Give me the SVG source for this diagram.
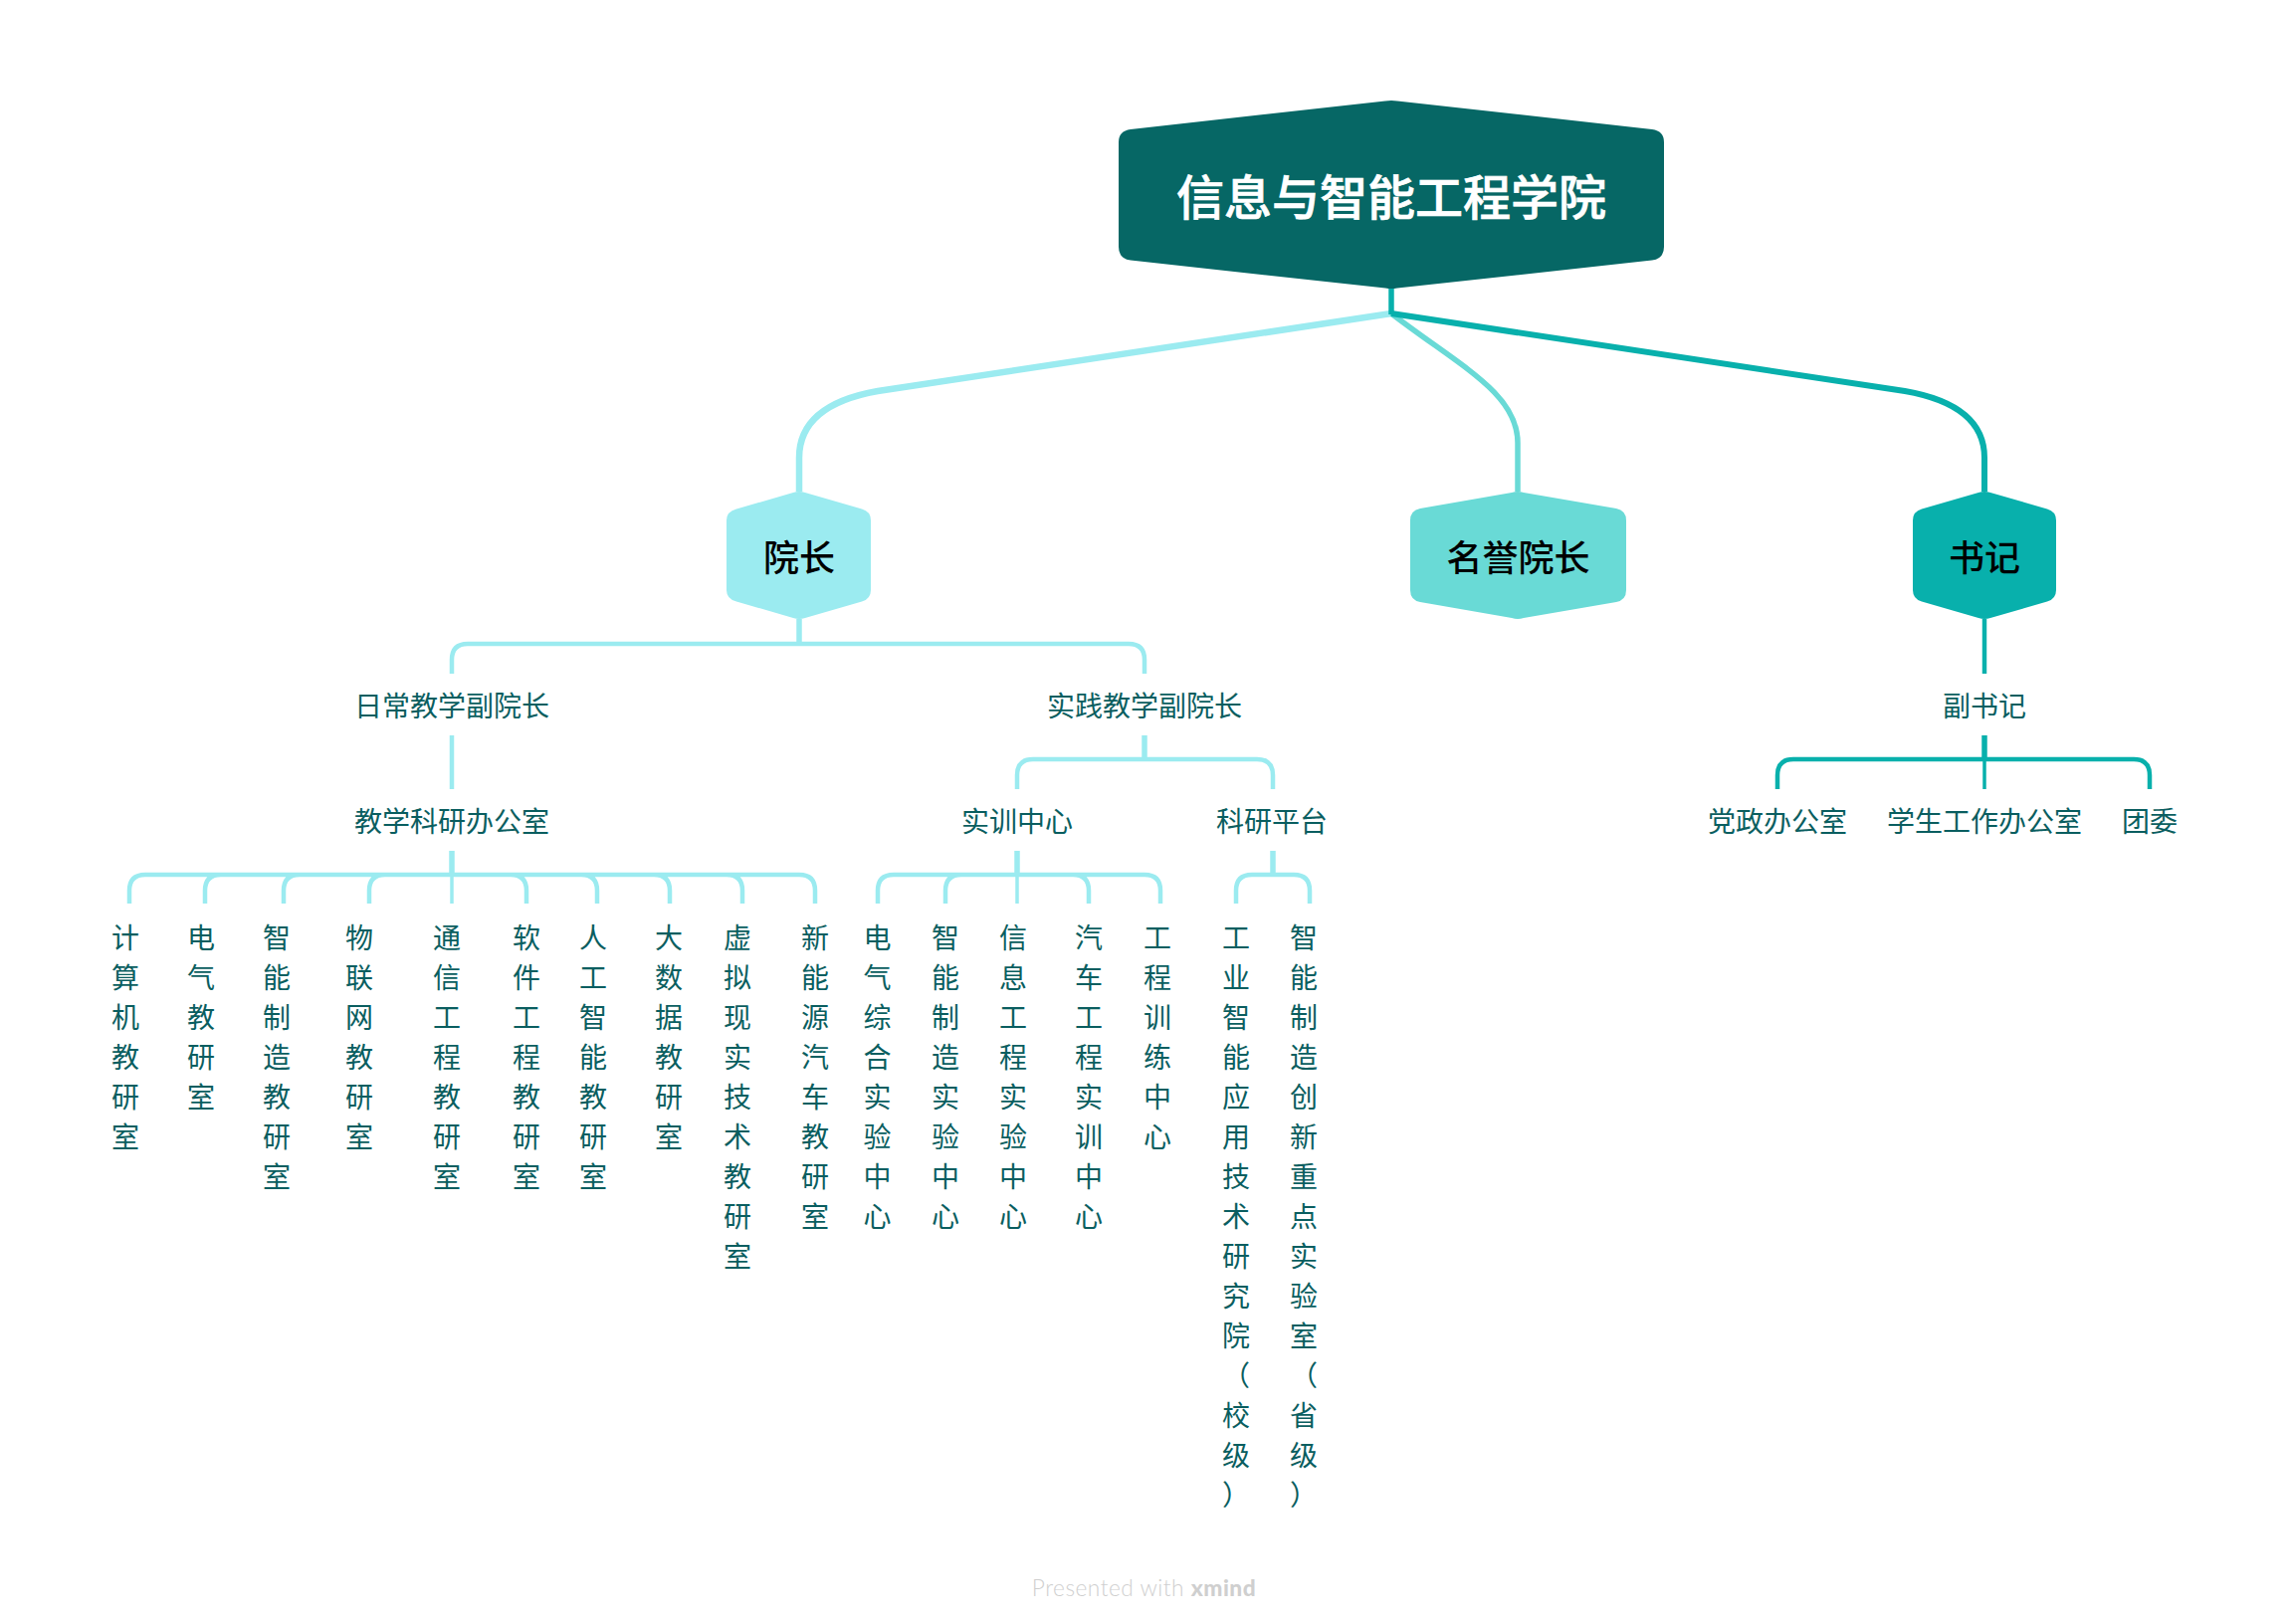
<svg xmlns="http://www.w3.org/2000/svg" width="2300" height="1632" viewBox="0 0 2300 1632">
<style>
text{font-family:"Noto Sans CJK SC","Noto Sans",sans-serif;text-anchor:middle}
.c{fill:none;stroke-linecap:butt}
.a{stroke:#9BEBF0;stroke-width:4.500}
.d{stroke:#08B0AC;stroke-width:4.500}
.s{stroke-width:5.500}
.n{stroke-width:3.500}
.t{font-size:28px;fill:#0A5E60}
.m{font-size:36px;font-weight:500;fill:#000}
</style>
<rect width="2300" height="1632" fill="#fff"/>
<g id="connectors">
<path class="c" d="M1398 315L882 393Q803 407 803 460V494" stroke="#9BEBF0" stroke-width="6.500"/>
<path class="c" d="M1398 315C1467 368 1525 395 1525 445V494" stroke="#69DAD6" stroke-width="5.500"/>
<path class="c" d="M1398 315L1914 393Q1994 407 1994 460V494" stroke="#08B0AC" stroke-width="6"/>
<path class="c" d="M1398 290V316" stroke="#08B0AC" stroke-width="5.500"/>
<g>
<path class="c a s" d="M803 622V647"/>
<path class="c a" d="M454 677V663Q454 647 470 647H1134Q1150 647 1150 663V677"/>
<path class="c a" d="M454 739V793"/>
<path class="c a s" d="M454 855V879"/>
<path class="c a n" d="M454 879V908"/>
<path class="c a" d="M819 908V895Q819 879 803 879H146Q130 879 130 895V908M206 908V895Q206 879 222 879M285 908V895Q285 879 301 879M371 908V895Q371 879 387 879M529 908V895Q529 879 513 879M600 908V895Q600 879 584 879M673 908V895Q673 879 657 879M746 908V895Q746 879 730 879"/>
<path class="c a s" d="M1150 739V763"/>
<path class="c a" d="M1022 793V779Q1022 763 1038 763H1263Q1279 763 1279 779V793"/>
<path class="c a s" d="M1022 855V879"/>
<path class="c a n" d="M1022 879V908"/>
<path class="c a" d="M882 908V895Q882 879 898 879H1150Q1166 879 1166 895V908M950 908V895Q950 879 966 879M1094 908V895Q1094 879 1078 879"/>
<path class="c a s" d="M1279 855V879"/>
<path class="c a" d="M1242 908V895Q1242 879 1258 879H1300Q1316 879 1316 895V908"/>
<path class="c d" d="M1994 622V677"/>
<path class="c d s" d="M1994 739V763"/>
<path class="c d n" d="M1994 763V793"/>
<path class="c d" d="M1786 793V779Q1786 763 1802 763H2144Q2160 763 2160 779V793"/>
</g>
</g>
<g id="root">
<path fill="#066765" d="M1392 101.500Q1398 100.500 1404 101.500L1660 130Q1672 131.500 1672 143V248Q1672 260 1660 261.500L1404 289.500Q1398 290.500 1392 289.500L1136 261.500Q1124 260 1124 248V143Q1124 131.500 1136 130Z"/>
<text x="1398" y="216" font-size="48" font-weight="500" fill="#fff" stroke="#fff" stroke-width="0.700">信息与智能工程学院</text>
</g>
<g id="n-dean">
<path fill="#9BEBF0" d="M797 495Q803 493 809 495L866 511.500Q875 514 875 523V593Q875 602 866 604.500L809 621Q803 623 797 621L740 604.500Q730 602 730 593V523Q730 514 740 511.500Z"/>
<text class="m" x="803" y="574">院长</text>
</g>
<g id="n-honor">
<path fill="#69DAD6" d="M1519 495Q1525 493 1531 495L1624 511Q1634 513 1634 523V593Q1634 603 1624 605L1531 621Q1525 623 1519 621L1427 605Q1417 603 1417 593V523Q1417 513 1427 511Z"/>
<text class="m" x="1525.500" y="574">名誉院长</text>
</g>
<g id="n-sec">
<path fill="#08B0AC" d="M1988 495Q1994 493 2000 495L2057 511.500Q2066 514 2066 523V593Q2066 602 2057 604.500L2000 621Q1994 623 1988 621L1931 604.500Q1922 602 1922 593V523Q1922 514 1931 511.500Z"/>
<text class="m" x="1994" y="574">书记</text>
</g>
<g id="labels">
<text class="t" x="454" y="720">日常教学副院长</text>
<text class="t" x="1150" y="720">实践教学副院长</text>
<text class="t" x="1994" y="720">副书记</text>
<text class="t" x="454" y="836">教学科研办公室</text>
<text class="t" x="1022" y="836">实训中心</text>
<text class="t" x="1278" y="836">科研平台</text>
<text class="t" x="1786" y="836">党政办公室</text>
<text class="t" x="1994" y="836">学生工作办公室</text>
<text class="t" x="2160" y="836">团委</text>
</g>
<g id="leaves">
<text class="t" id="l1"><tspan x="126" y="952.500">计</tspan><tspan x="126" dy="40">算</tspan><tspan x="126" dy="40">机</tspan><tspan x="126" dy="40">教</tspan><tspan x="126" dy="40">研</tspan><tspan x="126" dy="40">室</tspan></text>
<text class="t" id="l2"><tspan x="202" y="952.500">电</tspan><tspan x="202" dy="40">气</tspan><tspan x="202" dy="40">教</tspan><tspan x="202" dy="40">研</tspan><tspan x="202" dy="40">室</tspan></text>
<text class="t" id="l3"><tspan x="278" y="952.500">智</tspan><tspan x="278" dy="40">能</tspan><tspan x="278" dy="40">制</tspan><tspan x="278" dy="40">造</tspan><tspan x="278" dy="40">教</tspan><tspan x="278" dy="40">研</tspan><tspan x="278" dy="40">室</tspan></text>
<text class="t" id="l4"><tspan x="361" y="952.500">物</tspan><tspan x="361" dy="40">联</tspan><tspan x="361" dy="40">网</tspan><tspan x="361" dy="40">教</tspan><tspan x="361" dy="40">研</tspan><tspan x="361" dy="40">室</tspan></text>
<text class="t" id="l5"><tspan x="449" y="952.500">通</tspan><tspan x="449" dy="40">信</tspan><tspan x="449" dy="40">工</tspan><tspan x="449" dy="40">程</tspan><tspan x="449" dy="40">教</tspan><tspan x="449" dy="40">研</tspan><tspan x="449" dy="40">室</tspan></text>
<text class="t" id="l6"><tspan x="529" y="952.500">软</tspan><tspan x="529" dy="40">件</tspan><tspan x="529" dy="40">工</tspan><tspan x="529" dy="40">程</tspan><tspan x="529" dy="40">教</tspan><tspan x="529" dy="40">研</tspan><tspan x="529" dy="40">室</tspan></text>
<text class="t" id="l7"><tspan x="596" y="952.500">人</tspan><tspan x="596" dy="40">工</tspan><tspan x="596" dy="40">智</tspan><tspan x="596" dy="40">能</tspan><tspan x="596" dy="40">教</tspan><tspan x="596" dy="40">研</tspan><tspan x="596" dy="40">室</tspan></text>
<text class="t" id="l8"><tspan x="672" y="952.500">大</tspan><tspan x="672" dy="40">数</tspan><tspan x="672" dy="40">据</tspan><tspan x="672" dy="40">教</tspan><tspan x="672" dy="40">研</tspan><tspan x="672" dy="40">室</tspan></text>
<text class="t" id="l9"><tspan x="741" y="952.500">虚</tspan><tspan x="741" dy="40">拟</tspan><tspan x="741" dy="40">现</tspan><tspan x="741" dy="40">实</tspan><tspan x="741" dy="40">技</tspan><tspan x="741" dy="40">术</tspan><tspan x="741" dy="40">教</tspan><tspan x="741" dy="40">研</tspan><tspan x="741" dy="40">室</tspan></text>
<text class="t" id="l10"><tspan x="819" y="952.500">新</tspan><tspan x="819" dy="40">能</tspan><tspan x="819" dy="40">源</tspan><tspan x="819" dy="40">汽</tspan><tspan x="819" dy="40">车</tspan><tspan x="819" dy="40">教</tspan><tspan x="819" dy="40">研</tspan><tspan x="819" dy="40">室</tspan></text>
<text class="t" id="l11"><tspan x="881.500" y="952.500">电</tspan><tspan x="881.500" dy="40">气</tspan><tspan x="881.500" dy="40">综</tspan><tspan x="881.500" dy="40">合</tspan><tspan x="881.500" dy="40">实</tspan><tspan x="881.500" dy="40">验</tspan><tspan x="881.500" dy="40">中</tspan><tspan x="881.500" dy="40">心</tspan></text>
<text class="t" id="l12"><tspan x="950" y="952.500">智</tspan><tspan x="950" dy="40">能</tspan><tspan x="950" dy="40">制</tspan><tspan x="950" dy="40">造</tspan><tspan x="950" dy="40">实</tspan><tspan x="950" dy="40">验</tspan><tspan x="950" dy="40">中</tspan><tspan x="950" dy="40">心</tspan></text>
<text class="t" id="l13"><tspan x="1018" y="952.500">信</tspan><tspan x="1018" dy="40">息</tspan><tspan x="1018" dy="40">工</tspan><tspan x="1018" dy="40">程</tspan><tspan x="1018" dy="40">实</tspan><tspan x="1018" dy="40">验</tspan><tspan x="1018" dy="40">中</tspan><tspan x="1018" dy="40">心</tspan></text>
<text class="t" id="l14"><tspan x="1094" y="952.500">汽</tspan><tspan x="1094" dy="40">车</tspan><tspan x="1094" dy="40">工</tspan><tspan x="1094" dy="40">程</tspan><tspan x="1094" dy="40">实</tspan><tspan x="1094" dy="40">训</tspan><tspan x="1094" dy="40">中</tspan><tspan x="1094" dy="40">心</tspan></text>
<text class="t" id="l15"><tspan x="1163" y="952.500">工</tspan><tspan x="1163" dy="40">程</tspan><tspan x="1163" dy="40">训</tspan><tspan x="1163" dy="40">练</tspan><tspan x="1163" dy="40">中</tspan><tspan x="1163" dy="40">心</tspan></text>
<text class="t" id="l16"><tspan x="1242" y="952.500">工</tspan><tspan x="1242" dy="40">业</tspan><tspan x="1242" dy="40">智</tspan><tspan x="1242" dy="40">能</tspan><tspan x="1242" dy="40">应</tspan><tspan x="1242" dy="40">用</tspan><tspan x="1242" dy="40">技</tspan><tspan x="1242" dy="40">术</tspan><tspan x="1242" dy="40">研</tspan><tspan x="1242" dy="40">究</tspan><tspan x="1242" dy="40">院</tspan><tspan x="1242" dy="40">（</tspan><tspan x="1242" dy="40">校</tspan><tspan x="1242" dy="40">级</tspan><tspan x="1242" dy="40">）</tspan></text>
<text class="t" id="l17"><tspan x="1310" y="952.500">智</tspan><tspan x="1310" dy="40">能</tspan><tspan x="1310" dy="40">制</tspan><tspan x="1310" dy="40">造</tspan><tspan x="1310" dy="40">创</tspan><tspan x="1310" dy="40">新</tspan><tspan x="1310" dy="40">重</tspan><tspan x="1310" dy="40">点</tspan><tspan x="1310" dy="40">实</tspan><tspan x="1310" dy="40">验</tspan><tspan x="1310" dy="40">室</tspan><tspan x="1310" dy="40">（</tspan><tspan x="1310" dy="40">省</tspan><tspan x="1310" dy="40">级</tspan><tspan x="1310" dy="40">）</tspan></text>
</g>
<text id="watermark" x="1149.500" y="1603.500" font-size="22.700" font-weight="300" fill="#CFCFCF" style="font-family:Lato,'Noto Sans',sans-serif" letter-spacing="0.500">Presented with <tspan font-weight="900">xmind</tspan></text>
</svg>
